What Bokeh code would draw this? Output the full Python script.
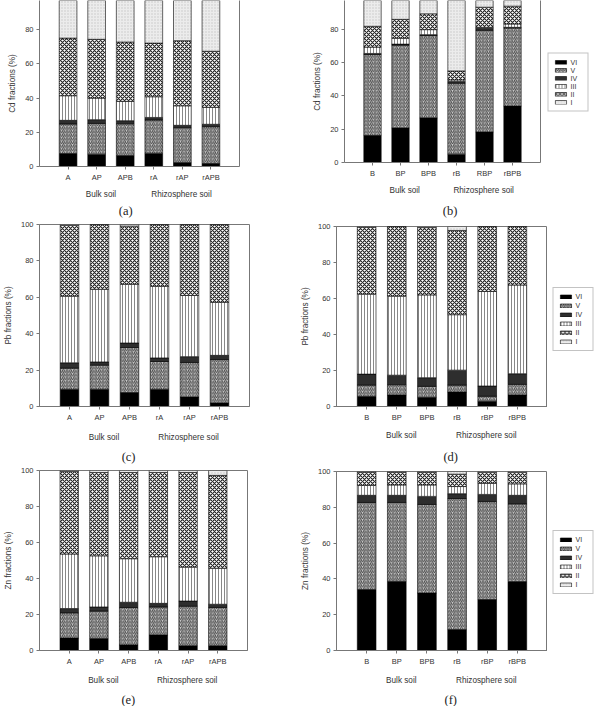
from bokeh.plotting import figure
from bokeh.models import (ColumnDataSource, FixedTicker, Legend, LegendItem,
                          Range1d, LinearAxis, CustomJSTickFormatter, Spacer)
from bokeh.core.properties import value
from bokeh.layouts import column, row
from bokeh.embed import file_html
from bokeh.resources import INLINE

# Sequential extraction fractions, stacked bottom (VI) to top (I)
FRACTIONS = ["VI", "V", "IV", "III", "II", "I"]

samples_a = ["A", "AP", "APB", "rA", "rAP", "rAPB"]
samples_b = ["B", "BP", "BPB", "rB", "RBP", "rBPB"]
samples_b2 = ["B", "BP", "BPB", "rB", "rBP", "rBPB"]

group_labels = ["Bulk soil", "Rhizosphere soil"]
group_pos = [2.15, 4.97]

# Cd fractions (%)
cd_a = {
    "VI": [7.6, 7.2, 6.4, 7.8, 2.3, 1.9],
    "V": [17.3, 18.0, 18.6, 19.4, 20.4, 21.4],
    "IV": [2.1, 2.2, 1.8, 1.5, 1.4, 1.4],
    "III": [14.4, 12.6, 11.3, 12.1, 11.4, 9.9],
    "II": [33.7, 34.4, 34.7, 31.4, 38.1, 32.8],
    "I": [24.9, 25.6, 27.2, 27.8, 26.4, 32.6],
}
cd_b = {
    "VI": [16.3, 20.8, 26.8, 5.0, 18.3, 33.9],
    "V": [48.6, 49.7, 49.4, 42.6, 61.1, 46.9],
    "IV": [0.6, 0.6, 0.6, 1.0, 1.2, 0.4],
    "III": [3.8, 3.5, 3.0, 1.0, 0.6, 2.0],
    "II": [12.5, 11.4, 9.5, 5.4, 12.1, 10.7],
    "I": [18.2, 14.0, 10.7, 45.0, 6.7, 6.1],
}
# Pb fractions (%)
pb_c = {
    "VI": [9.5, 9.5, 7.7, 9.5, 5.2, 2.0],
    "V": [11.6, 13.2, 24.7, 15.2, 19.0, 23.8],
    "IV": [2.9, 1.8, 2.5, 2.0, 3.2, 2.3],
    "III": [36.6, 39.9, 32.2, 39.3, 33.6, 29.1],
    "II": [38.9, 35.6, 32.0, 34.0, 39.0, 42.8],
    "I": [0.5, 0.0, 0.9, 0.0, 0.0, 0.0],
}
pb_d = {
    "VI": [5.7, 6.4, 5.1, 8.1, 2.9, 6.4],
    "V": [6.2, 5.7, 6.1, 3.8, 2.8, 5.9],
    "IV": [6.1, 5.3, 4.8, 8.3, 5.7, 5.9],
    "III": [44.4, 43.9, 46.0, 30.8, 52.5, 49.3],
    "II": [37.2, 38.7, 37.4, 46.8, 36.1, 32.5],
    "I": [0.4, 0.0, 0.6, 2.2, 0.0, 0.0],
}
# Zn fractions (%)
zn_e = {
    "VI": [6.9, 6.7, 3.1, 8.7, 2.7, 2.7],
    "V": [14.0, 15.2, 20.8, 15.5, 21.9, 21.2],
    "IV": [2.4, 2.3, 2.9, 2.0, 2.9, 1.8],
    "III": [30.3, 28.4, 24.2, 25.9, 18.8, 20.0],
    "II": [45.9, 46.3, 47.9, 46.8, 52.6, 51.6],
    "I": [0.5, 1.1, 1.1, 1.1, 1.1, 2.7],
}
zn_f = {
    "VI": [34.1, 38.7, 32.1, 11.7, 28.5, 38.5],
    "V": [48.6, 44.0, 49.5, 73.2, 54.7, 43.4],
    "IV": [4.0, 4.0, 4.5, 2.7, 4.0, 4.8],
    "III": [5.5, 5.8, 6.4, 4.0, 6.2, 6.4],
    "II": [7.4, 7.1, 7.1, 6.9, 6.1, 6.4],
    "I": [0.4, 0.4, 0.4, 1.5, 0.5, 0.5],
}

y_ticks = [0, 20, 40, 60, 80, 100]

FRACTION_STYLE = {
    "VI": dict(fill_color="black"),
    "V": dict(fill_color="#d0d0d0", hatch_pattern="/", hatch_color="#444444",
              hatch_scale=3.6, hatch_weight=1.0),
    "IV": dict(fill_color="#2e2e2e"),
    "III": dict(fill_color="white", hatch_pattern="vertical_line",
                hatch_color="#6a6a6a", hatch_scale=3.0, hatch_weight=0.8),
    "II": dict(fill_color="white", hatch_pattern="diagonal_cross",
               hatch_color="#222222", hatch_scale=4.0, hatch_weight=1.1),
    "I": dict(fill_color="#ececec", hatch_pattern="dot", hatch_color="#c4c4c4",
              hatch_scale=3.0, hatch_weight=0.6),
}

SANS = "Liberation Sans"
AXIS_GRAY = "#777777"
TEXT = "#333333"
BAR_W = 0.62
BELOW = 34  # room under each frame for sample and group labels


def bare_figure(width, height, x_range, y_range, **borders):
    f = figure(width=width, height=height, x_range=x_range, y_range=y_range,
               output_backend="svg", toolbar_location=None,
               background_fill_color="white", border_fill_color="white",
               **borders)
    f.xgrid.visible = False
    f.ygrid.visible = False
    return f


def build_panel(vals, samples, metal, *, width, left, right, top, frame_h,
                y_end, grp_standoff, caption, cap_x, cap_h, cap_y, boxed=True):
    p = bare_figure(width, top + frame_h + BELOW, Range1d(0, 7),
                    Range1d(0, y_end), min_border_left=left,
                    min_border_right=right, min_border_top=top,
                    min_border_bottom=BELOW)

    xs = list(range(1, len(samples) + 1))
    src = ColumnDataSource(dict(x=xs))
    base = [0.0] * len(xs)
    for f in FRACTIONS:
        upper = [b + v for b, v in zip(base, vals[f])]
        src.data[f + "_bottom"] = base
        src.data[f + "_top"] = upper
        p.vbar(x="x", width=BAR_W, bottom=f + "_bottom", top=f + "_top",
               source=src, line_color="black", line_width=0.6,
               **FRACTION_STYLE[f])
        base = upper

    # x axis: sample names
    p.xaxis.ticker = FixedTicker(ticks=xs)
    p.xaxis.major_label_overrides = {x: s for x, s in zip(xs, samples)}
    p.xaxis.minor_tick_line_color = None
    p.xaxis.major_tick_in = 0
    p.xaxis.major_tick_out = 3
    p.xaxis.major_label_standoff = 3

    # y axis: percentage
    p.yaxis.ticker = FixedTicker(ticks=y_ticks)
    p.yaxis.axis_label = f"{metal} fractions (%)"
    p.yaxis.axis_label_standoff = 5
    p.yaxis.major_tick_in = 0
    p.yaxis.major_tick_out = 3
    p.yaxis.major_label_standoff = 3

    for ax in (p.xaxis, p.yaxis):
        ax.axis_line_color = AXIS_GRAY
        ax.major_tick_line_color = AXIS_GRAY
        ax.major_label_text_font = SANS
        ax.major_label_text_font_size = "7.5px"
        ax.major_label_text_color = TEXT
        ax.axis_label_text_font = SANS
        ax.axis_label_text_font_size = "8.2px"
        ax.axis_label_text_font_style = "normal"
        ax.axis_label_text_color = TEXT

    if boxed:
        p.outline_line_color = AXIS_GRAY
        p.outline_line_width = 1
    else:
        p.outline_line_color = None
        edge = LinearAxis(ticker=FixedTicker(ticks=[]), major_tick_out=0,
                          major_tick_in=0, major_label_standoff=0,
                          major_label_text_font_size="0px",
                          axis_line_color=AXIS_GRAY)
        p.add_layout(edge, "right")

    # group names under the sample labels
    grp = LinearAxis(ticker=FixedTicker(ticks=group_pos),
                     formatter=CustomJSTickFormatter(
                         args=dict(names=group_labels),
                         code="return tick < 3.5 ? names[0] : names[1]"),
                     axis_line_color=None, major_tick_line_color=None,
                     minor_tick_line_color=None, major_tick_out=0,
                     major_tick_in=0, major_label_standoff=grp_standoff,
                     major_label_text_font=SANS,
                     major_label_text_font_size="8.2px",
                     major_label_text_color=TEXT)
    p.add_layout(grp, "below")

    # caption strip under the panel, sharing its x scale
    c = bare_figure(width, cap_h, p.x_range, Range1d(0, cap_h),
                    min_border_left=left, min_border_right=right,
                    min_border_top=0, min_border_bottom=0,
                    x_axis_location=None, y_axis_location=None,
                    outline_line_color=None)
    c.text(x=[cap_x], y=[cap_h - cap_y], text=[caption],
           text_font=value("Liberation Serif"), text_font_size="12.5px",
           text_color="#222222", text_align="center", text_baseline="middle")
    return column(p, c), src


def build_key(src, width, height, spacing):
    """Legend-only canvas; its swatches reuse the panel's bar styles.
    The view ranges keep the bars themselves well out of sight."""
    k = bare_figure(width, height, Range1d(50, 57), Range1d(300, 400),
                    min_border=0, x_axis_location=None, y_axis_location=None,
                    outline_line_color=None)
    items = []
    for f in FRACTIONS:
        r = k.vbar(x="x", width=BAR_W, bottom=f + "_bottom", top=f + "_top",
                   source=src, line_color="black", line_width=0.6,
                   **FRACTION_STYLE[f])
        items.append(LegendItem(label=f, renderers=[r]))
    leg = Legend(items=items, location="center", margin=0, padding=5,
                 spacing=spacing, glyph_width=14, glyph_height=5,
                 label_height=6, label_width=12, label_standoff=3,
                 label_text_font=SANS, label_text_font_size="7px",
                 label_text_color=TEXT, border_line_color="#888888",
                 border_line_width=1, background_fill_color="white",
                 background_fill_alpha=1)
    k.add_layout(leg, "center")
    return k


pa, _ = build_panel(cd_a, samples_a, "Cd", width=290, left=39, right=51,
                    top=0, frame_h=167, y_end=97.1, grp_standoff=5,
                    caption="(a)", cap_x=3.02, cap_h=17, cap_y=9, boxed=False)
pb, src_b = build_panel(cd_b, samples_b, "Cd", width=251, left=54, right=1,
                        top=0, frame_h=163, y_end=97.3, grp_standoff=5,
                        caption="(b)", cap_x=3.77, cap_h=21, cap_y=13,
                        boxed=False)
kb = build_key(src_b, 54, 80, 1)

pc, _ = build_panel(pb_c, samples_a, "Pb", width=290, left=35, right=41,
                    top=6, frame_h=186, y_end=100, grp_standoff=8,
                    caption="(c)", cap_x=2.97, cap_h=21, cap_y=12)
pd, src_d = build_panel(pb_d, samples_b2, "Pb", width=257, left=46, right=0,
                        top=8, frame_h=182, y_end=100, grp_standoff=6,
                        caption="(d)", cap_x=3.79, cap_h=23, cap_y=14)
kd = build_key(src_d, 46, 80, 2)

pe, _ = build_panel(zn_e, samples_a, "Zn", width=290, left=34, right=43,
                    top=5, frame_h=183, y_end=100, grp_standoff=7,
                    caption="(e)", cap_x=2.99, cap_h=19, cap_y=12.5)
pf, src_f = build_panel(zn_f, samples_b2, "Zn", width=257, left=46, right=0,
                        top=6, frame_h=182, y_end=100, grp_standoff=7,
                        caption="(f)", cap_x=3.79, cap_h=19, cap_y=12.5)
kf = build_key(src_f, 46, 80, 2)

page = column(
    row(pa, pb, column(Spacer(width=54, height=42), kb)),
    row(pc, pd, Spacer(width=3, height=10), column(Spacer(width=46, height=61), kd)),
    row(pe, pf, Spacer(width=3, height=10), column(Spacer(width=46, height=57), kf)),
)

open("out.html", "w").write(file_html(page, INLINE))
